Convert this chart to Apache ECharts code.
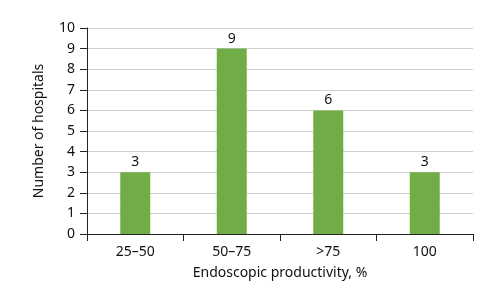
<!DOCTYPE html>
<html><head><meta charset="utf-8">
<script src="https://cdn.jsdelivr.net/npm/echarts@6/dist/echarts.min.js"></script>
<style>html,body{margin:0;padding:0;background:#fff}#c{width:500px;height:299px}</style>
</head><body><div id="c"></div>
<script>
const categories = ['25–50', '50–75', '>75', '100'];
const hospitals = [3, 9, 6, 3];
const yTicks = [0, 10, 1];
const font = '"Noto Sans", "Open Sans", sans-serif';
const chart = echarts.init(document.getElementById('c'), null, {renderer: 'canvas'});
chart.setOption({
  animation: false,
  grid: {left: 87, right: 27, top: 28, bottom: 65},
  xAxis: {
    type: 'category', data: categories,
    name: 'Endoscopic productivity, %', nameLocation: 'middle', nameGap: 32,
    nameTextStyle: {fontFamily: font, fontSize: 14, color: '#111'},
    axisLine: {lineStyle: {color: '#222', width: 1}},
    axisTick: {show: true, length: 7, lineStyle: {color: '#222'}},
    axisLabel: {fontFamily: font, fontSize: 14, color: '#111', margin: 11}
  },
  yAxis: {
    type: 'value', min: yTicks[0], max: yTicks[1], interval: yTicks[2],
    name: 'Number of hospitals', nameLocation: 'middle', nameGap: 41, nameRotate: 90,
    nameTextStyle: {fontFamily: font, fontSize: 14, color: '#111'},
    axisLine: {show: true, lineStyle: {color: '#222', width: 1}},
    axisTick: {show: true, length: 7, lineStyle: {color: '#222'}},
    axisLabel: {fontFamily: font, fontSize: 14, color: '#111', margin: 12},
    splitLine: {lineStyle: {color: '#d0d0d0', width: 1}}
  },
  series: [{
    type: 'bar', data: hospitals, barWidth: 30,
    itemStyle: {color: '#70AD47'},
    label: {show: true, position: 'top', distance: 3, fontFamily: font, fontSize: 14, color: '#111'}
  }]
});
</script></body></html>
